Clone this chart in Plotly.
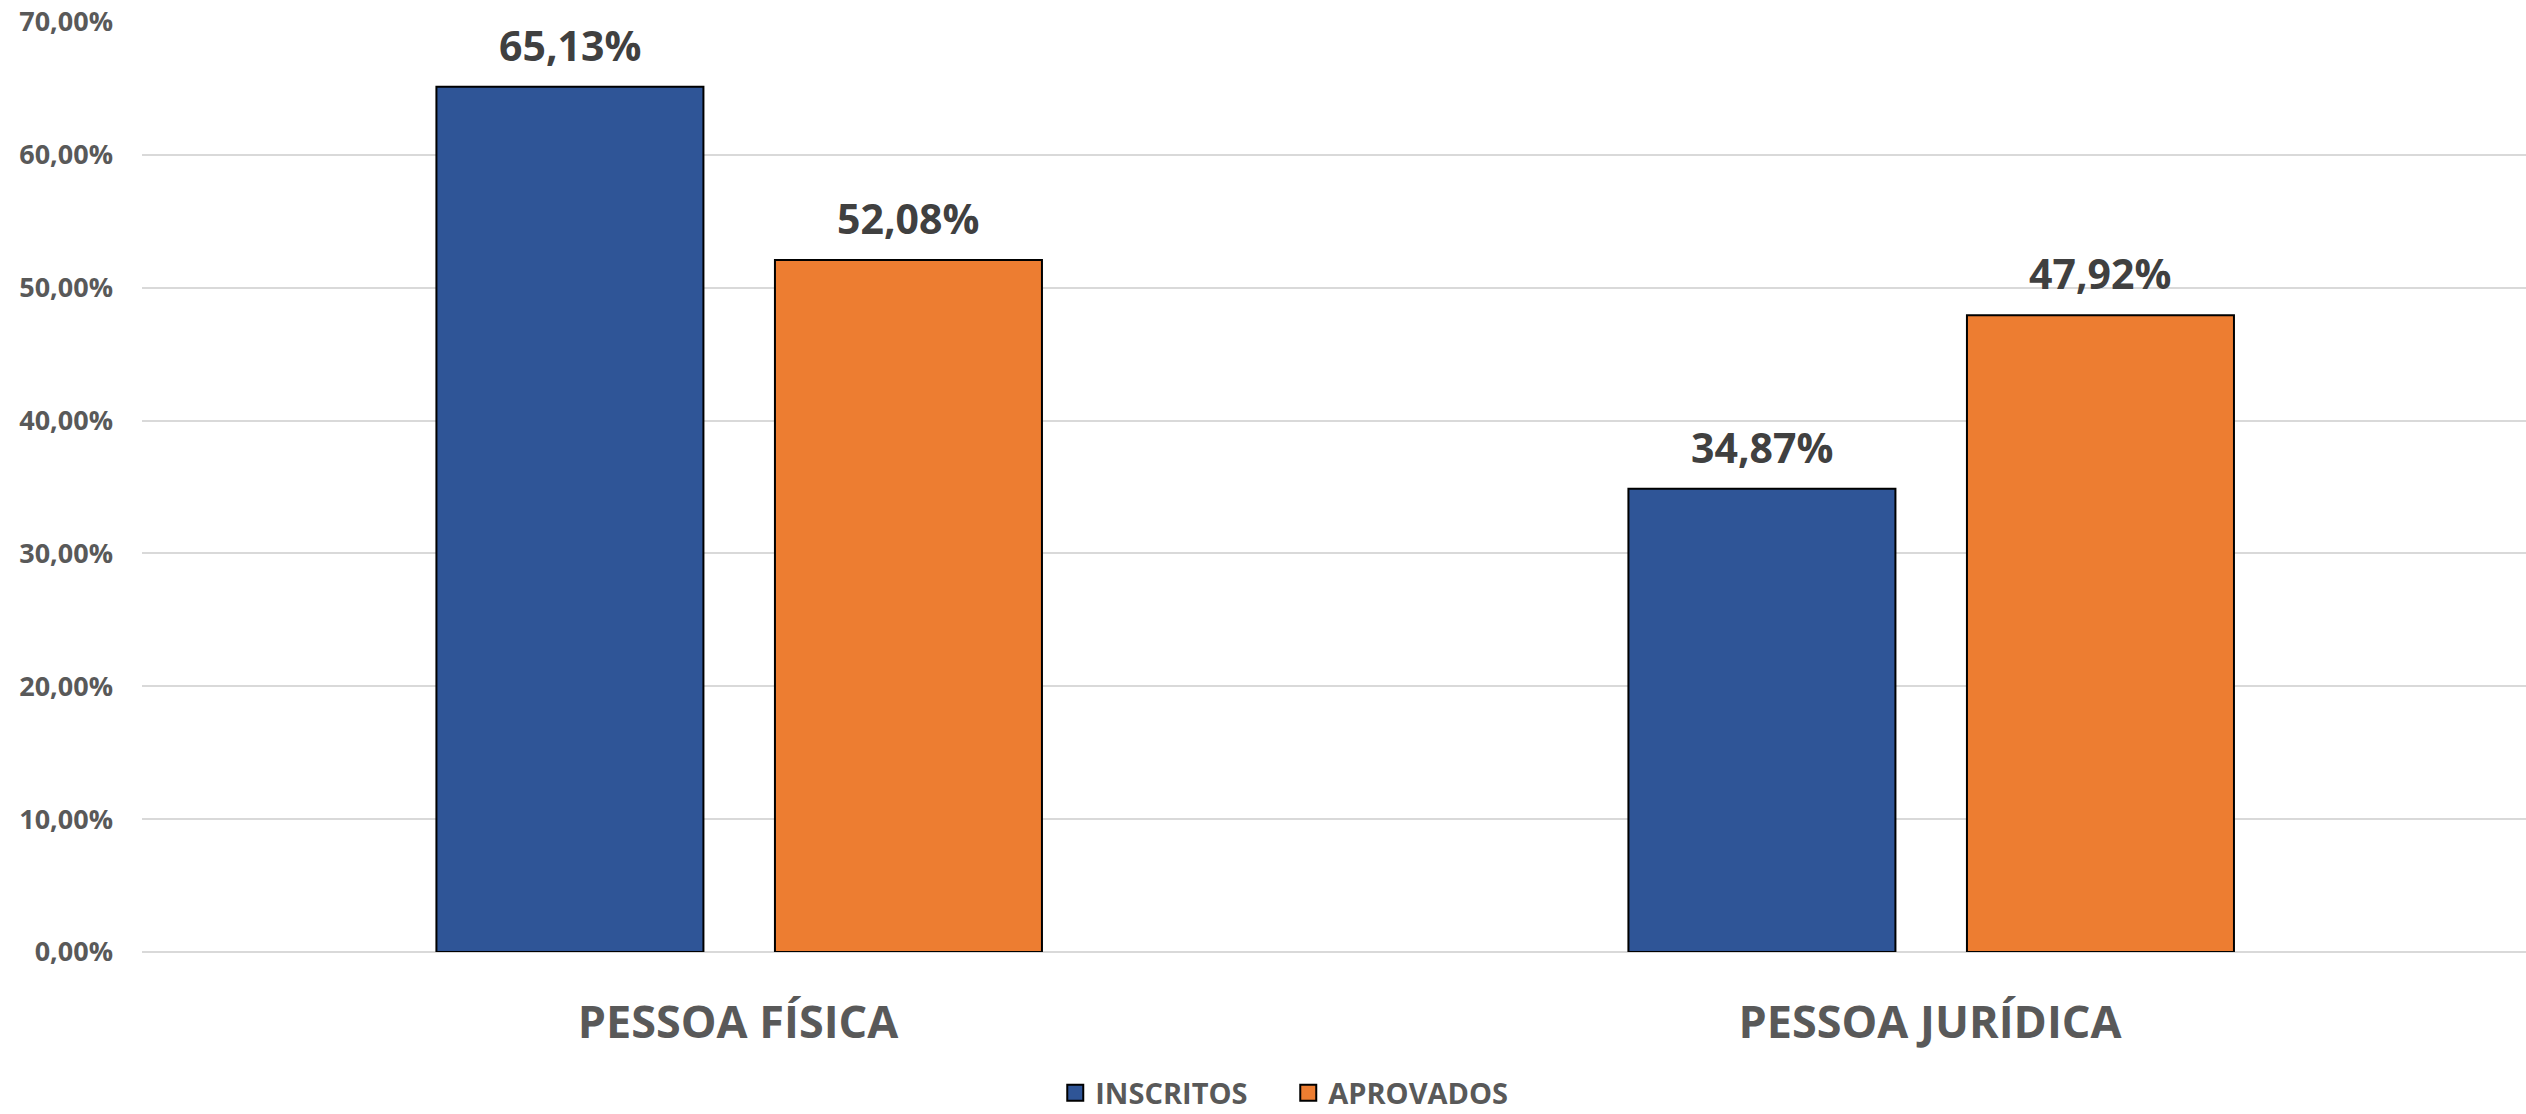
import plotly.graph_objects as go

categories = ["PESSOA FÍSICA", "PESSOA JURÍDICA"]
series_names = ["INSCRITOS", "APROVADOS"]
inscritos = [0.6513, 0.3487]
aprovados = [0.5208, 0.4792]
y_tick_values = [0, 0.1, 0.2, 0.3, 0.4, 0.5, 0.6, 0.7]

colors = ["#2F5597", "#ED7D31"]
bar_width = 0.224
bar_offsets = [-0.253, 0.031]

x_pos = list(range(len(categories)))

fig = go.Figure()
annotations = []
for name, vals, col, off in zip(series_names, [inscritos, aprovados], colors, bar_offsets):
    fig.add_trace(go.Bar(
        name=name, x=x_pos, y=vals,
        width=bar_width, offset=off,
        marker=dict(color=col, line=dict(color="#000000", width=2)),
        hoverinfo="skip", showlegend=False,
    ))
    for xi, v in zip(x_pos, vals):
        annotations.append(dict(
            x=xi + off + bar_width / 2, y=v, xref="x", yref="y",
            text=f"{v*100:.2f}%".replace(".", ","),
            showarrow=False, yanchor="bottom", yshift=12,
            font=dict(family="Open Sans", size=41, color="#404040", weight="bold"),
        ))

# legend entries (square swatches with black outline)
for name, col in zip(series_names, colors):
    fig.add_trace(go.Scatter(
        name=name, x=[None], y=[None], mode="markers",
        marker=dict(symbol="square", size=16, color=col, line=dict(color="#000000", width=2)),
        hoverinfo="skip", showlegend=True,
    ))

fig.update_layout(
    width=2526, height=1114,
    margin=dict(l=142, r=0, t=22, b=162),
    plot_bgcolor="white", paper_bgcolor="white",
    separators=",.",
    annotations=annotations,
    showlegend=True,
    legend=dict(
        orientation="h", xref="container", yref="container",
        x=0.51, xanchor="center", y=0.019, yanchor="middle",
        font=dict(family="Open Sans", size=29, color="#595959", weight="bold"),
        itemwidth=30, tracegroupgap=0, entrywidth=188, itemsizing="trace",
    ),
    xaxis=dict(
        range=[-0.5, 1.5],
        tickmode="array", tickvals=x_pos, ticktext=categories,
        showgrid=False, zeroline=False, showline=False, ticks="",
        ticklabelstandoff=40,
        tickfont=dict(family="Open Sans", size=45, color="#595959", weight="bold"),
    ),
    yaxis=dict(
        range=[0, 0.7],
        tickmode="array", tickvals=y_tick_values, tickformat=".2%",
        showgrid=True, gridcolor="#D9D9D9", gridwidth=2,
        zeroline=True, zerolinecolor="#D9D9D9", zerolinewidth=2,
        showline=False, ticks="",
        ticklabelstandoff=28,
        tickfont=dict(family="Open Sans", size=27, color="#595959", weight="bold"),
    ),
)

fig.write_html("out.html", config={"displayModeBar": False},
               post_script="document.body.style.margin='0';document.body.style.overflow='hidden';")
